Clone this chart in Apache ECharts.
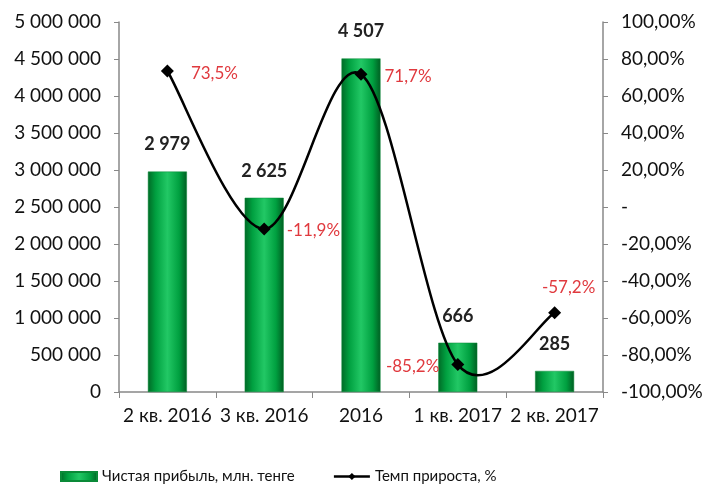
<!DOCTYPE html>
<html><head><meta charset="utf-8">
<script src="https://cdn.jsdelivr.net/npm/echarts@6/dist/echarts.min.js"></script>
<style>html,body{margin:0;padding:0;background:#fff}#c{width:716px;height:487px}</style>
</head><body><div id="c"></div>
<script>
const categories = ['2 кв. 2016', '3 кв. 2016', '2016', '1 кв. 2017', '2 кв. 2017'];
const profit = [2979000, 2625000, 4507000, 666000, 285000];
const growth = [73.5, -11.9, 71.7, -85.2, -57.2];
const growthLabelPos = ['right', 'right', 'right', 'left', 'top'];
const growthLabelOffset = [[5,2],[4,2],[5,2],[0,2],[14,2]];
const seriesNames = ['Чистая прибыль, млн. тенге', 'Темп прироста, %'];

const FONT = 'Lato';
function spaced(n){ return String(Math.round(n)).replace(/\B(?=(\d{3})+(?!\d))/g, ' '); }
const barColor = new echarts.graphic.LinearGradient(0,0,1,0,[
  {offset:0,color:'#006a26'},{offset:0.2,color:'#00a040'},{offset:0.5,color:'#22c865'},
  {offset:0.8,color:'#00a040'},{offset:1,color:'#005e22'}]);

// Excel-style smoothed line through the data points (Catmull-Rom, tension 1/6)
function smoothLine(params, api){
  if (params.dataIndex !== 0) return null;
  const pts = growth.map((v,i)=>api.coord([i, v]));
  let d = 'M' + pts[0][0] + ' ' + pts[0][1];
  for (let i = 0; i < pts.length - 1; i++){
    const p0 = pts[Math.max(i-1,0)], p1 = pts[i], p2 = pts[i+1], p3 = pts[Math.min(i+2,pts.length-1)];
    const c1 = [p1[0] + (p2[0]-p0[0])/6, p1[1] + (p2[1]-p0[1])/6];
    const c2 = [p2[0] - (p3[0]-p1[0])/6, p2[1] - (p3[1]-p1[1])/6];
    d += ' C' + c1[0] + ' ' + c1[1] + ' ' + c2[0] + ' ' + c2[1] + ' ' + p2[0] + ' ' + p2[1];
  }
  return {type:'path', shape:{pathData:d}, style:{stroke:'#000', lineWidth:2.5, fill:null}};
}

const chart = echarts.init(document.getElementById('c'));
chart.setOption({
  animation:false,
  textStyle:{fontFamily:FONT},
  grid:{left:119,right:113,top:22,bottom:95},
  legend:{top:464,left:55,itemGap:38,itemWidth:36,itemHeight:9,
    textStyle:{fontSize:15,color:'#111',fontFamily:FONT},
    data:[{name:seriesNames[0],icon:'rect'},
          {name:seriesNames[1],lineStyle:{opacity:1,color:'#000',width:2.5}}]},
  xAxis:{type:'category',data:categories,
    axisLine:{lineStyle:{color:'#888',width:1.5}},
    axisTick:{show:true,length:6,lineStyle:{color:'#888'}},
    axisLabel:{interval:0,fontSize:19,color:'#111',margin:14,fontFamily:FONT}},
  yAxis:[
    {type:'value',min:0,max:5000000,interval:500000,splitLine:{show:false},
     axisLine:{show:true,lineStyle:{color:'#888',width:1.5}},
     axisTick:{show:true,length:5,lineStyle:{color:'#888'}},
     axisLabel:{fontSize:19,color:'#111',margin:18,fontFamily:FONT,formatter:v=>spaced(v)}},
    {type:'value',min:-100,max:100,interval:20,splitLine:{show:false},position:'right',
     axisLine:{show:true,lineStyle:{color:'#888',width:1.5}},
     axisTick:{show:true,length:5,lineStyle:{color:'#888'}},
     axisLabel:{fontSize:19,color:'#111',margin:18,fontFamily:FONT,
       formatter:v=>v===0?'-':v.toFixed(2).replace('.',',')+'%'}}
  ],
  series:[
    {name:seriesNames[0],type:'bar',data:profit,barWidth:39,
     itemStyle:{color:barColor,borderColor:'#0a8a38',borderWidth:0.5},
     label:{show:true,position:'top',distance:18,fontSize:18,fontWeight:'bold',color:'#222',
       fontFamily:FONT,formatter:p=>spaced(p.value/1000)}},
    {name:'smooth', type:'custom', yAxisIndex:1, renderItem:smoothLine,
     data:growth.map((v,i)=>[i,v]), encode:{x:0,y:1}, silent:true, z:3},
    {name:seriesNames[1],type:'line',yAxisIndex:1,z:4,
     data:growth.map((v,i)=>({value:v,label:{position:growthLabelPos[i],offset:growthLabelOffset[i]}})),
     symbol:'diamond',symbolSize:13,
     lineStyle:{color:'#000',width:2.5,opacity:0},itemStyle:{color:'#000'},
     label:{show:true,fontSize:17,color:'#e0393e',distance:12,fontFamily:FONT,
       formatter:p=>p.value.toFixed(1).replace('.',',')+'%'}}
  ]
});
</script></body></html>
